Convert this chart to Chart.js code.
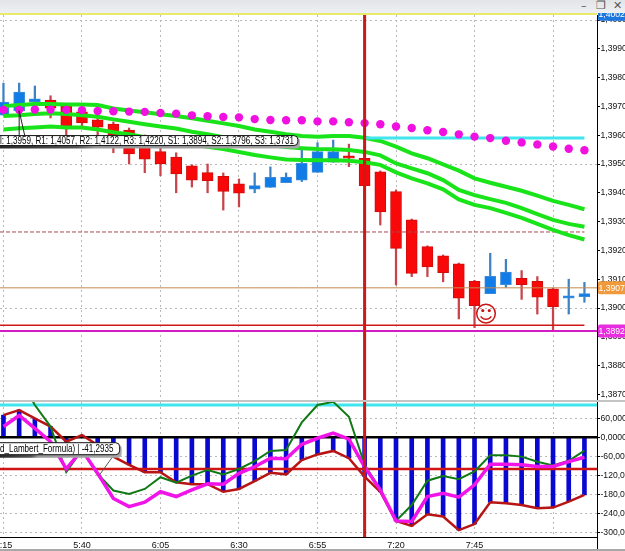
<!DOCTYPE html>
<html lang="en">
  <head>
    <meta charset="UTF-8" />
    <title>Price and CCI</title>
    <script src="https://cdn.jsdelivr.net/npm/chart.js"></script>
    <style>
      html, body { margin: 0; padding: 0; background: #fff; }
      #page { position: relative; width: 625px; height: 551px; overflow: hidden; }
      #titleBar { position: absolute; left: 0; top: 0; width: 625px; height: 13px; background: linear-gradient(#e2e5e8, #eef0f2); z-index: 3; }
      #yellowLine { position: absolute; left: 0; top: 13px; width: 597px; height: 2px; background: #e9e96a; z-index: 3; }
      .winBtn { position: absolute; top: 0; font: 11px "DejaVu Sans"; color: #555; line-height: 11px; }
      #paneGap { position: absolute; left: 0; top: 400px; width: 625px; height: 2px; background: #c4c4c4; z-index: 3; }
      #bottomLine { position: absolute; left: 0; top: 549px; width: 625px; height: 2px; background: #a8a8a8; z-index: 3; }
      canvas { position: absolute; left: 0; }
      #priceChart { top: 13px; }
      #cciChart { top: 402px; }
    </style>
  </head>
  <body>
    <div id="page">
      <div id="titleBar">
        <span class="winBtn" style="left: 581px">–</span>
        <span class="winBtn" style="left: 596px">❐</span>
        <span class="winBtn" style="left: 613px">✕</span>
      </div>
      <div id="yellowLine"></div>
      <canvas id="priceChart" width="625" height="389"></canvas>
      <canvas id="cciChart" width="625" height="149"></canvas>
      <div id="paneGap"></div>
      <div id="bottomLine"></div>
    </div>
    <script>
      // 5 minute bars, index 0 is 5:15
      const opens = [1.3967, 1.39685, 1.39716, 1.39722, 1.39701, 1.39681, 1.39653, 1.39639, 1.39618, 1.39594, 1.39543, 1.39524, 1.39494, 1.3947, 1.39457, 1.39431, 1.39413, 1.39419, 1.39435, 1.39444, 1.39471, 1.39506, 1.39528, 1.3952, 1.39473, 1.39404, 1.39306, 1.39213, 1.39181, 1.39153, 1.39093, 1.3905, 1.39081, 1.39103, 1.39093, 1.39067, 1.39034, 1.39039];
      const closes = [1.39715, 1.3975, 1.39726, 1.39694, 1.39632, 1.39643, 1.39628, 1.39601, 1.39535, 1.39517, 1.395, 1.39466, 1.39444, 1.39442, 1.39405, 1.39399, 1.39425, 1.39454, 1.39455, 1.39502, 1.39543, 1.39543, 1.3952, 1.39425, 1.39334, 1.39207, 1.3912, 1.39143, 1.39123, 1.39034, 1.39008, 1.3911, 1.39125, 1.39081, 1.39038, 1.39005, 1.39042, 1.3905];
      const highs = [1.39781, 1.39781, 1.39771, 1.39737, 1.39705, 1.39694, 1.39667, 1.39646, 1.39625, 1.39601, 1.39583, 1.39539, 1.39497, 1.395, 1.39469, 1.39448, 1.39469, 1.3949, 1.39469, 1.39549, 1.39574, 1.39583, 1.39569, 1.39542, 1.39476, 1.3941, 1.39309, 1.39216, 1.39184, 1.39156, 1.39096, 1.3919, 1.39169, 1.3913, 1.39109, 1.39069, 1.391, 1.39089];
      const lows = [1.3967, 1.39677, 1.39677, 1.3966, 1.39601, 1.39625, 1.39601, 1.39539, 1.395, 1.3947, 1.39459, 1.394, 1.3942, 1.394, 1.3934, 1.39351, 1.394, 1.39419, 1.39435, 1.39439, 1.39471, 1.39506, 1.39491, 1.39375, 1.39288, 1.3908, 1.39109, 1.39109, 1.39091, 1.38962, 1.38932, 1.3905, 1.39072, 1.3903, 1.38979, 1.38924, 1.38979, 1.3902];

      const upperBand = [1.39701, 1.39705, 1.39708, 1.39708, 1.39707, 1.39707, 1.39705, 1.39693, 1.39686, 1.3968, 1.39673, 1.39667, 1.39659, 1.3965, 1.39641, 1.39632, 1.3962, 1.39612, 1.39603, 1.39597, 1.39595, 1.39597, 1.39597, 1.39591, 1.3958, 1.3956, 1.39537, 1.3952, 1.39499, 1.39477, 1.3945, 1.39435, 1.39421, 1.39407, 1.3939, 1.39372, 1.39358, 1.39343];
      const middleBand = [1.39667, 1.39669, 1.39674, 1.39676, 1.39674, 1.39669, 1.39664, 1.39655, 1.39647, 1.39638, 1.3963, 1.39623, 1.39612, 1.39603, 1.39593, 1.39583, 1.39574, 1.39566, 1.39559, 1.39555, 1.39552, 1.39551, 1.39549, 1.39542, 1.3953, 1.39502, 1.39485, 1.39468, 1.39444, 1.3941, 1.39392, 1.39378, 1.39365, 1.39347, 1.39326, 1.39306, 1.39292, 1.39282];
      const lowerBand = [1.3962, 1.39624, 1.39627, 1.3963, 1.39627, 1.39627, 1.3962, 1.3961, 1.39603, 1.39593, 1.39583, 1.39575, 1.39568, 1.3956, 1.39552, 1.39542, 1.39531, 1.39523, 1.39516, 1.39514, 1.39513, 1.39513, 1.39511, 1.39506, 1.39497, 1.39471, 1.3945, 1.39433, 1.39412, 1.39377, 1.39358, 1.39347, 1.3933, 1.39313, 1.39292, 1.39271, 1.39253, 1.39238];
      const dotTrail = [1.39688, 1.39688, 1.39689, 1.39689, 1.39688, 1.39687, 1.39684, 1.39683, 1.39682, 1.39681, 1.39677, 1.39675, 1.39669, 1.39666, 1.39663, 1.39662, 1.39656, 1.39653, 1.39652, 1.39652, 1.39648, 1.39648, 1.39645, 1.39642, 1.39638, 1.3963, 1.39625, 1.39617, 1.39611, 1.39603, 1.39595, 1.3959, 1.39581, 1.39575, 1.39568, 1.39561, 1.39553, 1.39548];

      const cciRed = [70, 86, 60, 34, -14, 7, -24, -61, -87, -110, -110, -142, -148, -148, -172, -163, -138, -112, -117, -72, -54, -43, -66, -124, -172, -264, -280, -243, -250, -293, -274, -205, -208, -214, -224, -222, -203, -182];
      const cciMagenta = [34, 69, 28, -14, -100, -40, -114, -193, -219, -205, -172, -187, -166, -147, -148, -114, -93, -66, -68, -22, -3, 13, -6, -93, -166, -264, -266, -187, -177, -189, -150, -85, -85, -87, -92, -92, -77, -63];
      const cciGreen = [195, 190, 102, 34, -110, -40, -116, -168, -179, -163, -126, -143, -121, -103, -117, -100, -75, -43, -40, 47, 102, 112, 65, -87, -166, -264, -214, -137, -122, -132, -108, -57, -57, -61, -77, -89, -74, -42];

      const timeTicks = [0, 5, 10, 15, 20, 25, 30, 35];
      const timeLabels = ["5:15", "5:40", "6:05", "6:30", "6:55", "7:20", "7:45", ""];
      const priceTicks = [1.4, 1.399, 1.398, 1.397, 1.396, 1.395, 1.394, 1.393, 1.392, 1.391, 1.39, 1.389, 1.388, 1.387];
      const cciTicks = [60, 0, -60, -120, -180, -240, -300];

      const xRange = [-0.22, 37.8];
      const priceRange = [1.386736, 1.400174];
      const cciRange = [-314.8, 111.5];
      const lastBar = 37;
      const cursorBar = 23;

      const askLevel = 1.4002;
      const bidLevel = 1.3907;
      const alertLevel = 1.3892;
      const s1Level = 1.3894;
      const dashedLevel = 1.39264;
      const pivotLevel = 1.3959;
      const cciBandLevel = 102;
      const cciTriggerLevel = -100;

      const pivotText = "l: 1,3959, R1: 1,4057, R2: 1,4122, R3: 1,4220, S1: 1,3894, S2: 1,3796, S3: 1,3731";
      const cciText = "d_Lambert_Formula) | -41,2935";

      const withIndex = (values) => values.map((v, i) => ({ x: i, y: v }));
      const comma = (v) => v.toFixed(4).replace(".", ",");

      const lineSet = (data, color, width, order, extra) => ({
        type: "line",
        data: data,
        borderColor: color,
        borderWidth: width,
        pointRadius: 0,
        tension: 0,
        order: order,
        ...extra,
      });
      const hLine = (y, from, to, color, width, order, extra) =>
        lineSet([{ x: from, y: y }, { x: to, y: y }], color, width, order, extra);

      // grid and axis setup shared by both panes
      const fixAxis = (width, height) => (scale) => {
        if (width !== null) scale.width = width;
        if (height !== null) scale.height = height;
        scale.paddingTop = scale.paddingBottom = scale.paddingLeft = scale.paddingRight = 0;
      };
      const gridColor = "#b9b9b9";
      const xAxis = (showLabels) => ({
        type: "linear",
        min: xRange[0],
        max: xRange[1],
        offset: false,
        afterBuildTicks: (scale) => { scale.ticks = timeTicks.map((v) => ({ value: v })); },
        afterFit: fixAxis(null, showLabels ? 14 : 0),
        border: { display: showLabels, color: "#000", width: 1, dash: [2, 3] },
        grid: { color: gridColor, offset: false, drawTicks: false },
        ticks: {
          display: showLabels,
          autoSkip: false,
          maxRotation: 0,
          padding: 3,
          color: "#111",
          font: { family: "Liberation Sans", size: 9 },
          callback: (v) => timeLabels[timeTicks.indexOf(v)],
        },
      });
      const yAxis = (range, tickValues, label, gridOn) => ({
        position: "right",
        min: range[0],
        max: range[1],
        afterBuildTicks: (scale) => { scale.ticks = tickValues.map((v) => ({ value: v })); },
        afterFit: fixAxis(28, null),
        border: { color: "#000", width: 1, dash: [2, 3] },
        grid: {
          tickLength: 3,
          tickColor: "#000",
          color: (ctx) => (ctx.tick && gridOn(ctx.index) ? gridColor : "rgba(0,0,0,0)"),
        },
        ticks: {
          padding: 0.5,
          autoSkip: false,
          color: "#111",
          font: { family: "Liberation Sans", size: 8.6 },
          callback: label,
        },
      });

      // white rounded callout running off the left edge, text squeezed to fit
      const pill = (ctx, right, top, bottom, text, textRight) => {
        const left = -30;
        ctx.save();
        const shadow = ctx.createLinearGradient(0, 0, right, 0);
        shadow.addColorStop(0, "#2a2a2a");
        shadow.addColorStop(0.26, "#555");
        shadow.addColorStop(0.32, "#999");
        shadow.addColorStop(1, "#a8a8a8");
        ctx.fillStyle = shadow;
        ctx.beginPath();
        ctx.roundRect(left, top + 2, right - left + 2, bottom - top + 1, 4);
        ctx.fill();
        ctx.fillStyle = "#fff";
        ctx.strokeStyle = "#111";
        ctx.lineWidth = 1;
        ctx.beginPath();
        ctx.roundRect(left, top, right - left, bottom - top, 4);
        ctx.fill();
        ctx.stroke();
        ctx.fillStyle = "#000";
        ctx.font = '10px "Liberation Sans"';
        ctx.textAlign = "left";
        ctx.textBaseline = "middle";
        ctx.fillText(text, 0, (top + bottom) / 2 + 0.5, textRight);
        ctx.restore();
      };
      const priceTag = (chart, value, background) => {
        const { ctx, chartArea } = chart;
        const y = chart.scales.y.getPixelForValue(value);
        ctx.save();
        ctx.fillStyle = background;
        ctx.beginPath();
        ctx.roundRect(chartArea.right + 1, y - 6.5, 30, 13, 2);
        ctx.fill();
        ctx.fillStyle = "#fff";
        ctx.font = '8.6px "Liberation Sans"';
        ctx.textBaseline = "middle";
        ctx.fillText(comma(value), chartArea.right + 1.5, y + 0.5);
        ctx.restore();
      };

      // price tags, smiley and the pivot callout go on top of the marks
      const priceOverlay = {
        id: "priceOverlay",
        afterDraw(chart) {
          const { ctx, scales } = chart;
          const xs = scales.x;
          const ys = scales.y;
          priceTag(chart, askLevel, "#1c78e0");
          priceTag(chart, bidLevel, "#f09a3c");
          priceTag(chart, alertLevel, "#e82ce0");

          ctx.save();
          ctx.fillStyle = "#c81414";
          ctx.font = '23px "DejaVu Sans"';
          ctx.textAlign = "center";
          ctx.textBaseline = "middle";
          ctx.fillText("☺", xs.getPixelForValue(30.73), ys.getPixelForValue(1.38972));
          ctx.strokeStyle = "#222";
          ctx.lineWidth = 1;
          ctx.beginPath();
          ctx.moveTo(xs.getPixelForValue(1), ys.getPixelForValue(1.39685));
          ctx.lineTo(xs.getPixelForValue(1), ys.getPixelForValue(1.396));
          ctx.moveTo(xs.getPixelForValue(1), ys.getPixelForValue(1.39685));
          ctx.lineTo(xs.getPixelForValue(1.35), ys.getPixelForValue(1.396));
          ctx.stroke();
          ctx.restore();

          const midY = ys.getPixelForValue(pivotLevel) + 2.5;
          pill(ctx, xs.getPixelForValue(18.75), midY - 5, midY + 5, pivotText, xs.getPixelForValue(18.5));
        },
      };
      const cciOverlay = {
        id: "cciOverlay",
        afterDraw(chart) {
          const { ctx, scales, chartArea } = chart;
          const xs = scales.x;
          const ys = scales.y;
          ctx.save();
          ctx.strokeStyle = "#000";
          ctx.lineWidth = 1;
          ctx.beginPath();
          ctx.moveTo(chartArea.right + 0.5, chartArea.bottom);
          ctx.lineTo(chartArea.right + 0.5, chart.height);
          ctx.stroke();
          ctx.strokeStyle = "#555";
          ctx.beginPath();
          ctx.moveTo(xs.getPixelForValue(7), ys.getPixelForValue(-58));
          ctx.lineTo(xs.getPixelForValue(6.1), ys.getPixelForValue(-120));
          ctx.stroke();
          ctx.restore();
          const midY = ys.getPixelForValue(-36);
          pill(ctx, xs.getPixelForValue(7.4), midY - 6, midY + 6, cciText, xs.getPixelForValue(7));
        },
      };

      new Chart(document.getElementById("priceChart").getContext("2d"), {
        type: "bar",
        plugins: [priceOverlay],
        options: {
          responsive: false,
          animation: false,
          events: [],
          layout: { autoPadding: false, padding: { top: 2 } },
          plugins: { legend: { display: false }, tooltip: { enabled: false } },
          datasets: { bar: { grouped: false } },
          scales: {
            x: xAxis(false),
            y: yAxis(priceRange, priceTicks, (v) => comma(v), (i) => i % 5 === 0),
          },
        },
        data: {
          datasets: [
            {
              data: opens.map((o, i) => ({ x: i, y: [lows[i], highs[i]] })),
              backgroundColor: opens.map((o, i) => (closes[i] >= o ? "#3f82c2" : "#c8434a")),
              barThickness: 1.6,
              order: 20,
            },
            {
              data: opens.map((o, i) => ({ x: i, y: [o, closes[i]] })),
              backgroundColor: opens.map((o, i) => (closes[i] >= o ? "#117ce8" : "#f80808")),
              borderColor: opens.map((o, i) => (closes[i] >= o ? "#3a8cd8" : "#d00c0c")),
              borderWidth: 1,
              borderSkipped: false,
              barThickness: 11,
              order: 19,
            },
            hLine(bidLevel, xRange[0], xRange[1], "#c08a50", 1, 18),
            hLine(alertLevel, xRange[0], xRange[1], "#d21cc8", 2, 17),
            hLine(s1Level, xRange[0], lastBar, "#d01818", 1.5, 16),
            hLine(dashedLevel, xRange[0], lastBar, "#a84a50", 1, 15, { borderDash: [4, 2] }),
            lineSet(withIndex(upperBand), "#19e319", 4, 8),
            lineSet(withIndex(middleBand), "#19e319", 4, 8),
            lineSet(withIndex(lowerBand), "#19e319", 4, 8),
            hLine(pivotLevel, cursorBar, lastBar, "#3fe6ee", 3, 7),
            lineSet(withIndex(dotTrail), "#f010e0", 0, 6, {
              showLine: false,
              pointRadius: 4.2,
              pointBackgroundColor: "#f010e0",
              pointBorderWidth: 0,
            }),
            lineSet([{ x: cursorBar, y: priceRange[0] }, { x: cursorBar, y: priceRange[1] }], "#cc1818", 3, 5),
          ],
        },
      });

      new Chart(document.getElementById("cciChart").getContext("2d"), {
        type: "bar",
        plugins: [cciOverlay],
        options: {
          responsive: false,
          animation: false,
          events: [],
          layout: { autoPadding: false },
          plugins: { legend: { display: false }, tooltip: { enabled: false } },
          datasets: { bar: { grouped: false } },
          scales: {
            x: xAxis(true),
            y: yAxis(cciRange, cciTicks, (v) => comma(v), () => true),
          },
        },
        data: {
          datasets: [
            hLine(cciBandLevel, xRange[0], xRange[1], "#3fe6ee", 3, 20),
            { data: withIndex(cciRed), backgroundColor: "#0808d2", barThickness: 4, order: 18 },
            hLine(0, xRange[0], xRange[1], "#000", 2.5, 16),
            hLine(cciTriggerLevel, xRange[0], xRange[1], "#d01414", 2.5, 15),
            lineSet(withIndex(cciRed), "#b81414", 2.5, 10),
            lineSet(withIndex(cciGreen), "#0f7a14", 2, 9),
            lineSet(withIndex(cciMagenta), "#f014e8", 3.5, 8),
            lineSet([{ x: cursorBar, y: cciRange[0] }, { x: cursorBar, y: cciRange[1] }], "#cc1818", 3, 5),
          ],
        },
      });
    </script>
  </body>
</html>
